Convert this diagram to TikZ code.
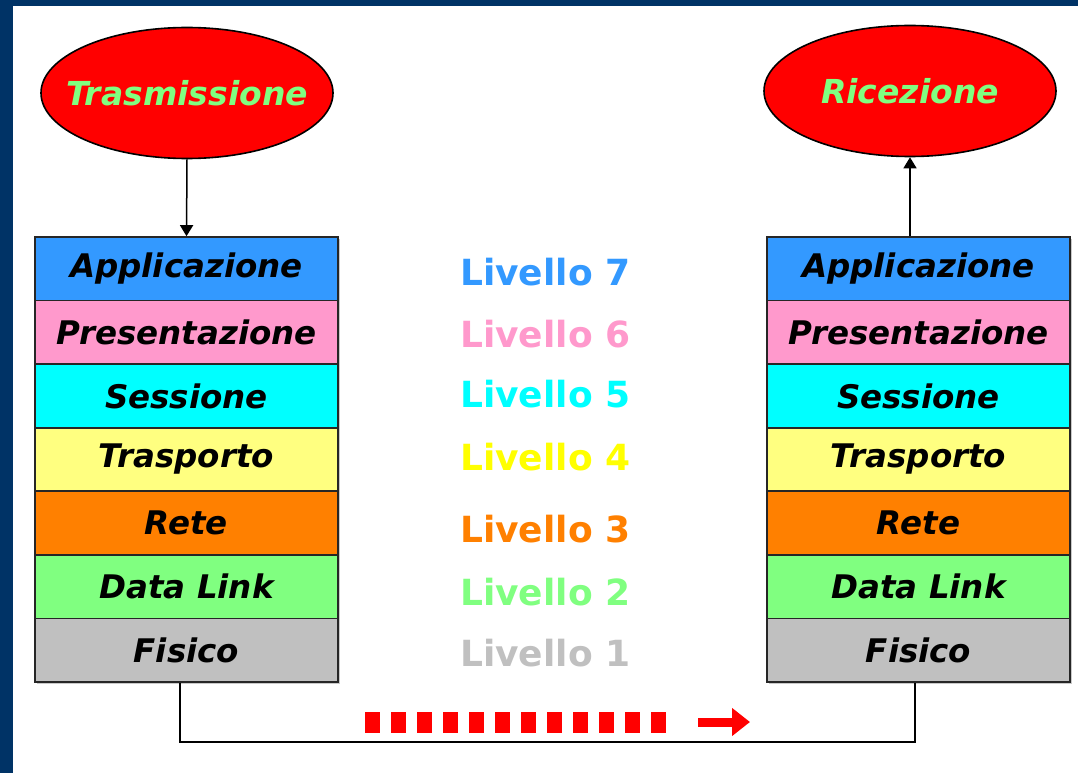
\documentclass[tikz,border=0pt]{standalone}
\usepackage{fontspec}
\setmainfont{DejaVu Sans}
\usetikzlibrary{shapes.geometric,arrows.meta,shadows}
\definecolor{navy}{HTML}{003366}
\definecolor{c7}{HTML}{3399FF}
\definecolor{c6}{HTML}{FF99CC}
\definecolor{c5}{HTML}{00FFFF}
\definecolor{c4}{HTML}{FFFF80}
\definecolor{c3}{HTML}{FF8000}
\definecolor{c2}{HTML}{80FF80}
\definecolor{c1}{HTML}{C0C0C0}
\definecolor{t4}{HTML}{FFFF00}
\definecolor{lgreen}{HTML}{80FF80}
\definecolor{pred}{HTML}{FF0000}
\tikzset{
  layer/.style={draw=black!85, line width=1.6pt, minimum width=303pt, minimum height=63.57pt,
    inner sep=0pt, font=\fontsize{32.5}{38}\selectfont\bfseries\itshape,
    drop shadow={shadow xshift=2pt, shadow yshift=-2pt, opacity=0.35, fill=black!60}},
  endpoint/.style={ellipse, draw=black, line width=1.6pt, fill=pred, minimum width=292pt,
    minimum height=131pt, inner sep=0pt, text=lgreen,
    font=\fontsize{33}{38}\selectfont\bfseries\itshape},
  lvl/.style={anchor=base west, inner sep=0pt, font=\fontsize{36}{42}\selectfont\bfseries},
  arr/.style={line width=1.5pt, -{Triangle[length=11pt,width=13pt]}},
  conn/.style={line width=1.6pt, black}
}
\begin{document}
\begin{tikzpicture}[x=1pt,y=-1pt]
\useasboundingbox (0,0) rectangle (1078,773);
\fill[navy] (0,0) rectangle (1078,773);
\fill[white] (13,6) rectangle (1078,773);

\node[endpoint] (tx) at (187,93) {\makebox[0pt]{Trasmissione}};
\node[endpoint] (rx) at (910,91) {\makebox[0pt]{Ricezione}};

\foreach \n/\c/\k in {Applicazione/c7/7, Presentazione/c6/6, Sessione/c5/5, Trasporto/c4/4, Rete/c3/3, Data Link/c2/2, Fisico/c1/1} {
  \node[layer, fill=\c] (l\k) at (186.5, {237+63.57*(7-\k+0.5)}) {\n};
  \node[layer, fill=\c] (r\k) at (918.5, {237+63.57*(7-\k+0.5)}) {\n};
}

\foreach \k/\c/\b in {7/c7/285, 6/c6/347, 5/c5/407, 4/t4/470, 3/c3/542, 2/c2/605, 1/c1/666} {
  \node[lvl, text=\c] (v\k) at (460,\b) {Livello \k};
}

\draw[arr] (tx.south) -- (l7.north);
\draw[arr] (r7.north -| rx.south) -- (rx.south);

\draw[conn] ([xshift=-6.5pt]l1.south) -- ++(0,59) -| ([xshift=-3.5pt]r1.south);

\coordinate (d1) at (365,722);
\coordinate (d2) at (666,722);
\draw[pred, line width=21pt, dash pattern=on 15pt off 11pt] (d1) -- (d2);
\coordinate (a1) at (698,722);
\coordinate (a2) at (750,722);
\draw[pred, line width=9pt, -{Triangle[length=18pt,width=27pt]}] (a1) -- (a2);
\end{tikzpicture}
\end{document}
